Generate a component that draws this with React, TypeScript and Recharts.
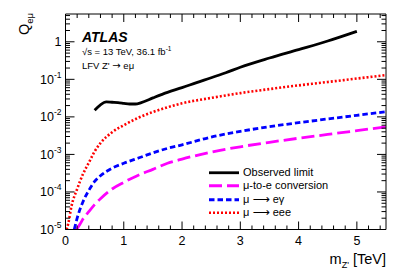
import React from 'react';
import { LineChart, Line, XAxis, YAxis, Legend, Customized } from 'recharts';

// ---------- data ----------
const obsMass = [0.5, 0.6, 0.7, 0.8, 0.9, 1.0, 1.1, 1.2, 1.3, 1.5, 1.75, 2.0, 2.25, 2.5, 2.75, 3.0, 3.5, 4.0, 4.5, 5.0];
const obsQ = [0.015, 0.021, 0.025, 0.0245, 0.024, 0.023, 0.022, 0.022, 0.024, 0.032, 0.045, 0.06, 0.082, 0.11, 0.15, 0.21, 0.37, 0.62, 1.05, 1.9];

const convMass = [0.19, 0.25, 0.3, 0.4, 0.5, 0.6, 0.8, 1.0, 1.25, 1.5, 1.75, 2.0, 2.5, 3.0, 3.5, 4.0, 4.5, 5.0, 5.5];
const convQ = [1e-5, 1.4e-5, 1.9e-5, 3e-5, 4.6e-5, 6.6e-5, 1.2e-4, 1.8e-4, 2.8e-4, 4e-4, 5.8e-4, 7.5e-4, 1.15e-3, 1.6e-3, 2.1e-3, 2.7e-3, 3.4e-3, 4.3e-3, 5.4e-3];

const egMass = [0.15, 0.2, 0.3, 0.4, 0.5, 0.6, 0.8, 1.0, 1.25, 1.5, 1.75, 2.0, 2.5, 3.0, 3.5, 4.0, 4.5, 5.0, 5.5];
const egQ = [1e-5, 2e-5, 5.5e-5, 1.1e-4, 1.9e-4, 2.7e-4, 4.3e-4, 5.8e-4, 8e-4, 1.1e-3, 1.45e-3, 1.8e-3, 2.9e-3, 4.1e-3, 5.5e-3, 7e-3, 8.8e-3, 0.011, 0.0137];

const eeeMass = [0.02, 0.05, 0.1, 0.2, 0.3, 0.4, 0.5, 0.6, 0.8, 1.0, 1.25, 1.5, 1.75, 2.0, 2.5, 3.0, 3.5, 4.0, 4.5, 5.0, 5.5];
const eeeQ = [1e-5, 1.5e-5, 4e-5, 1.2e-4, 3e-4, 6e-4, 1.2e-3, 2e-3, 3.9e-3, 6e-3, 9.5e-3, 1.35e-2, 1.8e-2, 2.3e-2, 3.2e-2, 4.3e-2, 5.5e-2, 6.9e-2, 8.5e-2, 0.105, 0.13];

const xMajorTicks = [0, 1, 2, 3, 4, 5];
const yMajorTicks = [1e-5, 1e-4, 1e-3, 1e-2, 1e-1, 1];
const yMajorLabels = ['10|-5', '10|-4', '10|-3', '10|-2', '10|-1', '1'];

const seriesNames = ['Observed limit', 'μ-to-e conversion', 'μ → eγ', 'μ → eee'];

// ---------- derived tables ----------
const toRows = (ms: number[], qs: number[]) => ms.map((m, i) => ({ m, q: qs[i] }));
const obsData = toRows(obsMass, obsQ);
const convData = toRows(convMass, convQ);
const egData = toRows(egMass, egQ);
const eeeData = toRows(eeeMass, eeeQ);

const xAllTicks: number[] = [];
for (let i = 0; i <= 27; i++) xAllTicks.push(Math.round(i * 2) / 10);
const yAllTicks: number[] = [];
for (let e = -5; e <= 0; e++) {
  for (let k = 1; k <= 9; k++) {
    const v = k * Math.pow(10, e);
    if (v <= 5.5) yAllTicks.push(Number(v.toPrecision(3)));
  }
}
const isXMajor = (v: number) => xMajorTicks.some((t) => Math.abs(t - v) < 1e-6);
const yMajorIndex = (v: number) => yMajorTicks.findIndex((t) => Math.abs(t - v) / t < 1e-6);

const FONT = '"Liberation Sans", Arial, Helvetica, sans-serif';
const ARROW_FONT = '"DejaVu Sans", sans-serif';

const styles = [
  { color: '#000000', dash: undefined as string | undefined, width: 2.8 },
  { color: '#ff00ff', dash: '13 5', width: 2.8 },
  { color: '#0000ff', dash: '5.5 3', width: 2.8 },
  { color: '#ff0000', dash: '2 2', width: 2.6 },
];

// ---------- tick renderers ----------
const BottomTick = (props: any) => {
  const { x, y, payload } = props;
  const major = isXMajor(payload.value);
  return (
    <g>
      <line x1={x} x2={x} y1={y} y2={y - (major ? 8 : 4)} stroke="#000" strokeWidth={1} />
      {major && (
        <text x={x} y={y + 15} textAnchor="middle" fontSize={12.5} fontFamily={FONT} fill="#000">
          {String(payload.value)}
        </text>
      )}
    </g>
  );
};
const TopTick = (props: any) => {
  const { x, y, payload } = props;
  const major = isXMajor(payload.value);
  return <line x1={x} x2={x} y1={y} y2={y + (major ? 8 : 4)} stroke="#000" strokeWidth={1} />;
};
const LeftTick = (props: any) => {
  const { x, y, payload } = props;
  const idx = yMajorIndex(payload.value);
  const major = idx >= 0;
  let label: React.ReactNode = null;
  if (major) {
    const [base, exp] = yMajorLabels[idx].split('|');
    label = (
      <text x={x - 4} y={y + 4.5} textAnchor="end" fontSize={12.5} fontFamily={FONT} fill="#000">
        {base}
        {exp && (
          <tspan dy={-6} fontSize={8.5}>
            {exp}
          </tspan>
        )}
      </text>
    );
  }
  return (
    <g>
      <line x1={x} x2={x + (major ? 9 : 4.5)} y1={y} y2={y} stroke="#000" strokeWidth={1} />
      {label}
    </g>
  );
};
const RightTick = (props: any) => {
  const { x, y, payload } = props;
  const major = yMajorIndex(payload.value) >= 0;
  return <line x1={x} x2={x - (major ? 9 : 4.5)} y1={y} y2={y} stroke="#000" strokeWidth={1} />;
};

// ---------- annotations ----------
const Annotations = () => (
  <g fontFamily={FONT} fill="#000">
    <text x={82} y={41.5} fontSize={14} fontWeight="bold" fontStyle="italic">
      ATLAS
    </text>
    <text x={82} y={54.5} fontSize={9.5}>
      √s = 13 TeV, 36.1 fb
      <tspan dy={-4} fontSize={6.5}>
        -1
      </tspan>
    </text>
    <text x={82} y={68.5} fontSize={9.5}>
      LFV Z'{' '}
      <tspan fontFamily={ARROW_FONT} fontSize={10}>
        →
      </tspan>{' '}
      eμ
    </text>
    <text x={386} y={264} textAnchor="end" fontSize={14.5}>
      m
      <tspan dy={4} fontSize={9}>
        Z'
      </tspan>
      <tspan dy={-4}> [TeV]</tspan>
    </text>
    <text transform="translate(28.5,13) rotate(-90)" textAnchor="end" fontSize={14.5}>
      Q
      <tspan dy={4} fontSize={9.5}>
        eμ
      </tspan>
    </text>
  </g>
);

const renderName = (name: string) => {
  const parts = name.split('→');
  if (parts.length === 1) return name;
  return (
    <>
      {parts[0]}
      <span style={{ fontFamily: ARROW_FONT, fontSize: 12 }}>⟶</span>
      {parts[1]}
    </>
  );
};

const LegendBox = () => (
  <div style={{ fontFamily: FONT, fontSize: 11, color: '#000' }}>
    {seriesNames.map((name, i) => (
      <div key={name} style={{ display: 'flex', alignItems: 'center', height: 13.5 }}>
        <svg width={34} height={13.5} style={{ display: 'block' }}>
          <line
            x1={0}
            x2={30}
            y1={6.75}
            y2={6.75}
            stroke={styles[i].color}
            strokeWidth={styles[i].width}
            strokeDasharray={styles[i].dash}
          />
        </svg>
        <span style={{ whiteSpace: 'pre', lineHeight: '13.5px' }}>{renderName(name)}</span>
      </div>
    ))}
  </div>
);

export default function App() {
  const seriesData = [obsData, convData, egData, eeeData];
  return (
    <div style={{ position: 'absolute', left: 0, top: 0, width: 407, height: 276, background: '#fff' }}>
      <LineChart width={407} height={276} margin={{ top: 13, right: 20, bottom: 45.5, left: 64.5 }}>
        <XAxis
          xAxisId="b"
          type="number"
          dataKey="m"
          domain={[0, 5.5]}
          ticks={xAllTicks}
          interval={0}
          height={1}
          tickSize={0}
          tickMargin={0}
          tick={<BottomTick />}
          axisLine={{ stroke: '#000', strokeWidth: 1 }}
          allowDataOverflow
        />
        <XAxis
          xAxisId="t"
          orientation="top"
          type="number"
          dataKey="m"
          domain={[0, 5.5]}
          ticks={xAllTicks}
          interval={0}
          height={1}
          tickSize={0}
          tickMargin={0}
          tick={<TopTick />}
          axisLine={{ stroke: '#000', strokeWidth: 1 }}
          allowDataOverflow
        />
        <YAxis
          yAxisId="l"
          type="number"
          scale="log"
          domain={[1e-5, 5.5]}
          ticks={yAllTicks}
          interval={0}
          width={1}
          tickSize={0}
          tickMargin={0}
          tick={<LeftTick />}
          axisLine={{ stroke: '#000', strokeWidth: 1 }}
          allowDataOverflow
        />
        <YAxis
          yAxisId="r"
          orientation="right"
          type="number"
          scale="log"
          domain={[1e-5, 5.5]}
          ticks={yAllTicks}
          interval={0}
          width={1}
          tickSize={0}
          tickMargin={0}
          tick={<RightTick />}
          axisLine={{ stroke: '#000', strokeWidth: 1 }}
          allowDataOverflow
        />
        {seriesData.map((d, i) => (
          <Line
            key={seriesNames[i]}
            xAxisId="b"
            yAxisId="l"
            data={d}
            dataKey="q"
            name={seriesNames[i]}
            type="monotone"
            stroke={styles[i].color}
            strokeWidth={styles[i].width}
            strokeDasharray={styles[i].dash}
            dot={false}
            activeDot={false}
            isAnimationActive={false}
          />
        ))}
        <Legend
          layout="vertical"
          align="center"
          verticalAlign="middle"
          content={<LegendBox />}
          wrapperStyle={{ left: 209, top: 165.75, width: 150 }}
        />
        <Customized component={<Annotations />} />
      </LineChart>
    </div>
  );
}
